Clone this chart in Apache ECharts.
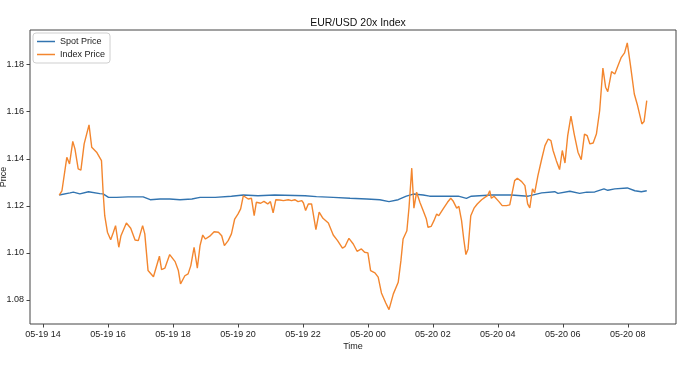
<!DOCTYPE html>
<html><head><meta charset="utf-8">
<script src="https://cdn.jsdelivr.net/npm/echarts@6/dist/echarts.min.js"></script>
<style>html,body{margin:0;padding:0;background:#fff}#c{width:680px;height:371px}</style>
</head><body><div id="c"></div>
<script>
const chartTitle = 'EUR/USD 20x Index';
const seriesNames = ['Spot Price', 'Index Price'];

// times as "MM-DD HH:mm" (year 2019)
const spotTimes = ['05-19 14:30','05-19 14:50','05-19 14:56','05-19 15:08','05-19 15:24','05-19 15:45','05-19 15:51','05-19 16:01','05-19 16:16','05-19 16:37','05-19 17:05','05-19 17:18','05-19 17:36','05-19 17:54','05-19 18:13','05-19 18:16','05-19 18:35','05-19 18:50','05-19 19:18','05-19 19:48','05-19 20:10','05-19 20:37','05-19 21:08','05-19 22:04','05-19 22:25','05-19 22:56','05-19 23:27','05-19 23:58','05-20 00:22','05-20 00:39','05-20 00:56','05-20 01:11','05-20 01:24','05-20 01:42','05-20 01:54','05-20 02:47','05-20 03:02','05-20 03:11','05-20 03:48','05-20 04:25','05-20 04:56','05-20 05:21','05-20 05:45','05-20 05:51','05-20 06:13','05-20 06:31','05-20 06:44','05-20 06:59','05-20 07:16','05-20 07:23','05-20 07:36','05-20 07:59','05-20 08:13','05-20 08:25','05-20 08:35'];
const spotValues = [1.1246,1.1255,1.1258,1.1251,1.1260,1.1252,1.1251,1.1236,1.1236,1.1238,1.1238,1.1226,1.1229,1.1229,1.1226,1.1225,1.1229,1.1236,1.1236,1.1241,1.1246,1.1243,1.1246,1.1243,1.1239,1.1236,1.1232,1.1229,1.1226,1.1218,1.1226,1.1241,1.1250,1.1246,1.1241,1.1241,1.1232,1.1241,1.1246,1.1246,1.1241,1.1255,1.1260,1.1253,1.1262,1.1253,1.1258,1.1259,1.1272,1.1266,1.1272,1.1276,1.1264,1.1260,1.1264];

const indexTimes = ['05-19 14:30','05-19 14:35','05-19 14:44','05-19 14:49','05-19 14:55','05-19 14:59','05-19 15:05','05-19 15:10','05-19 15:16','05-19 15:25','05-19 15:30','05-19 15:39','05-19 15:48','05-19 15:51','05-19 15:54','05-19 15:59','05-19 16:05','05-19 16:10','05-19 16:14','05-19 16:20','05-19 16:24','05-19 16:34','05-19 16:42','05-19 16:50','05-19 16:56','05-19 17:04','05-19 17:08','05-19 17:14','05-19 17:24','05-19 17:35','05-19 17:39','05-19 17:45','05-19 17:54','05-19 18:04','05-19 18:10','05-19 18:14','05-19 18:22','05-19 18:28','05-19 18:33','05-19 18:39','05-19 18:45','05-19 18:50','05-19 18:55','05-19 19:00','05-19 19:08','05-19 19:16','05-19 19:24','05-19 19:30','05-19 19:35','05-19 19:42','05-19 19:48','05-19 19:54','05-19 20:00','05-19 20:05','05-19 20:10','05-19 20:13','05-19 20:19','05-19 20:25','05-19 20:30','05-19 20:34','05-19 20:42','05-19 20:48','05-19 20:55','05-19 21:00','05-19 21:05','05-19 21:10','05-19 21:17','05-19 21:24','05-19 21:33','05-19 21:39','05-19 21:45','05-19 21:51','05-19 21:58','05-19 22:01','05-19 22:05','05-19 22:10','05-19 22:16','05-19 22:24','05-19 22:30','05-19 22:37','05-19 22:47','05-19 22:56','05-19 23:04','05-19 23:13','05-19 23:18','05-19 23:25','05-19 23:33','05-19 23:40','05-19 23:48','05-19 23:54','05-20 00:00','05-20 00:05','05-20 00:13','05-20 00:19','05-20 00:25','05-20 00:33','05-20 00:39','05-20 00:47','05-20 00:56','05-20 01:01','05-20 01:05','05-20 01:12','05-20 01:16','05-20 01:21','05-20 01:25','05-20 01:30','05-20 01:36','05-20 01:42','05-20 01:48','05-20 01:51','05-20 01:57','05-20 02:02','05-20 02:07','05-20 02:11','05-20 02:19','05-20 02:27','05-20 02:33','05-20 02:37','05-20 02:44','05-20 02:48','05-20 02:53','05-20 02:57','05-20 03:01','05-20 03:05','05-20 03:10','05-20 03:16','05-20 03:22','05-20 03:30','05-20 03:36','05-20 03:41','05-20 03:45','05-20 03:48','05-20 03:53','05-20 03:56','05-20 04:02','05-20 04:08','05-20 04:16','05-20 04:22','05-20 04:26','05-20 04:31','05-20 04:36','05-20 04:44','05-20 04:50','05-20 04:55','05-20 04:59','05-20 05:04','05-20 05:08','05-20 05:14','05-20 05:21','05-20 05:27','05-20 05:33','05-20 05:38','05-20 05:42','05-20 05:48','05-20 05:54','05-20 05:59','05-20 06:04','05-20 06:09','05-20 06:15','05-20 06:21','05-20 06:28','05-20 06:34','05-20 06:40','05-20 06:45','05-20 06:50','05-20 06:56','05-20 07:02','05-20 07:08','05-20 07:14','05-20 07:19','05-20 07:23','05-20 07:30','05-20 07:36','05-20 07:42','05-20 07:48','05-20 07:54','05-20 07:59','05-20 08:05','05-20 08:12','05-20 08:18','05-20 08:26','05-20 08:30','05-20 08:35'];
const indexValues = [1.1246,1.1264,1.1406,1.1378,1.1474,1.1442,1.1357,1.1352,1.1463,1.1544,1.1449,1.1428,1.1392,1.1259,1.1158,1.1088,1.1056,1.1088,1.1116,1.1024,1.1073,1.1127,1.1105,1.1055,1.1052,1.1116,1.1081,1.0925,1.0899,1.0986,1.0929,1.0935,1.0993,1.0963,1.0925,1.0868,1.0903,1.0911,1.0946,1.1024,1.0935,1.1031,1.1076,1.1059,1.1071,1.1090,1.1088,1.1073,1.1031,1.1052,1.1081,1.1144,1.1165,1.1187,1.1243,1.1236,1.1229,1.1232,1.1158,1.1215,1.1211,1.1219,1.1208,1.1218,1.1170,1.1226,1.1225,1.1222,1.1226,1.1222,1.1226,1.1218,1.1222,1.1212,1.1180,1.1208,1.1208,1.1099,1.1173,1.1147,1.1127,1.1076,1.1052,1.1020,1.1028,1.1062,1.1038,1.1007,1.1017,1.1003,1.1000,1.0925,1.0915,1.0897,1.0830,1.0787,1.0759,1.0826,1.0875,1.0967,1.1059,1.1094,1.1194,1.1360,1.1190,1.1258,1.1215,1.1180,1.1144,1.1109,1.1113,1.1137,1.1165,1.1158,1.1187,1.1215,1.1232,1.1222,1.1190,1.1198,1.1137,1.1059,1.0993,1.1017,1.1158,1.1190,1.1208,1.1226,1.1236,1.1243,1.1264,1.1232,1.1241,1.1246,1.1218,1.1201,1.1201,1.1204,1.1250,1.1307,1.1317,1.1303,1.1286,1.1208,1.1191,1.1272,1.1255,1.1328,1.1399,1.1456,1.1484,1.1477,1.1435,1.1392,1.1354,1.1435,1.1382,1.1498,1.1581,1.1505,1.1428,1.1396,1.1505,1.1498,1.1463,1.1467,1.1505,1.1604,1.1785,1.1704,1.1685,1.1770,1.1760,1.1796,1.1831,1.1850,1.1892,1.1796,1.1675,1.1626,1.1548,1.1558,1.1647];

const xRange = ['05-19 13:36', '05-20 09:29'];
const yRange = [1.0698, 1.1947];

// time -> hours since 05-19 00:00
function toHours(s) {
  const [md, hm] = s.split(' ');
  const [mo, d] = md.split('-').map(Number);
  const [h, mi] = hm.split(':').map(Number);
  return (d - 19) * 24 + h + mi / 60;
}
const pad = n => String(n).padStart(2, '0');
const font = 'Liberation Sans, Arial, sans-serif';
const linePath = 'path://M0,0L18,0L18,1.5L0,1.5Z';

const chart = echarts.init(document.getElementById('c'), null, {renderer: 'canvas'});
chart.setOption({
  animation: false,
  backgroundColor: '#fff',
  title: {
    text: chartTitle, left: 353, top: 13, textAlign: 'center',
    textStyle: {fontSize: 10.5, fontWeight: 'normal', color: '#111', fontFamily: font}
  },
  legend: {
    orient: 'vertical', left: 33, top: 33,
    itemWidth: 18, itemHeight: 1.5, itemGap: 2,
    padding: [3, 5, 3, 4],
    borderColor: '#cfcfcf', borderWidth: 1, borderRadius: 3,
    backgroundColor: 'rgba(255,255,255,0.85)',
    textStyle: {fontSize: 9, color: '#222', fontFamily: font, lineHeight: 11},
    data: seriesNames.map(n => ({name: n, icon: linePath}))
  },
  grid: {left: 30, right: 4, top: 30, bottom: 47, containLabel: false, outerBoundsMode: 'none',
    show: true, borderColor: '#444', borderWidth: 1, backgroundColor: 'transparent'},
  xAxis: {
    type: 'value', min: toHours(xRange[0]), max: toHours(xRange[1]), splitNumber: 10,
    name: 'Time', nameLocation: 'middle', nameGap: 18, nameMoveOverlap: false,
    nameTextStyle: {fontSize: 9, color: '#222', fontFamily: font},
    axisLine: {show: false},
    axisTick: {show: true, length: 3.5, lineStyle: {color: '#444'}},
    splitLine: {show: false},
    axisLabel: {
      showMinLabel: false, showMaxLabel: false, margin: 6,
      fontSize: 9, color: '#222', fontFamily: font,
      formatter: function (v) {
        const day = 19 + Math.floor(v / 24);
        const hr = Math.round(v - (day - 19) * 24);
        return '05-' + pad(day) + ' ' + pad(hr);
      }
    }
  },
  yAxis: {
    type: 'value', min: yRange[0], max: yRange[1], splitNumber: 6, scale: true,
    name: 'Price', nameLocation: 'middle', nameGap: 22, nameMoveOverlap: false, nameRotate: 90,
    nameTextStyle: {fontSize: 9, color: '#222', fontFamily: font},
    axisLine: {show: false},
    axisTick: {show: true, length: 3.5, lineStyle: {color: '#444'}},
    splitLine: {show: false},
    axisLabel: {
      showMinLabel: false, showMaxLabel: false, margin: 6,
      fontSize: 9, color: '#222', fontFamily: font,
      formatter: v => v.toFixed(2)
    }
  },
  series: [
    {
      name: seriesNames[0], type: 'line', symbol: 'none',
      itemStyle: {color: '#3274b0'}, lineStyle: {width: 1.4, color: '#3274b0'},
      data: spotTimes.map((t, i) => [toHours(t), spotValues[i]])
    },
    {
      name: seriesNames[1], type: 'line', symbol: 'none',
      itemStyle: {color: '#f3862e'}, lineStyle: {width: 1.4, color: '#f3862e'},
      data: indexTimes.map((t, i) => [toHours(t), indexValues[i]])
    }
  ]
});
</script></body></html>
